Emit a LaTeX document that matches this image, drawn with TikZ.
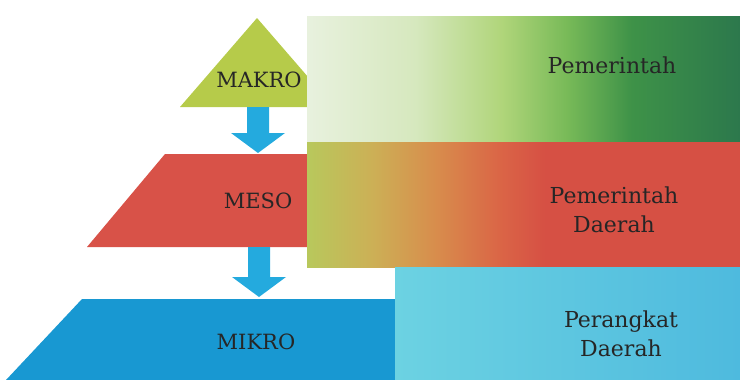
\documentclass[tikz,border=0pt]{standalone}
\usepackage{fontspec}
\setmainfont{DejaVu Serif}
\usetikzlibrary{calc}

\definecolor{makro}{RGB}{182,203,74}
\definecolor{meso}{RGB}{216,82,72}
\definecolor{mikro}{RGB}{24,152,210}
\definecolor{panah}{RGB}{36,170,222}
\definecolor{teks}{RGB}{38,38,38}

\definecolor{hijauA}{RGB}{232,241,222}
\definecolor{hijauB}{RGB}{214,232,190}
\definecolor{hijauC}{RGB}{176,213,122}
\definecolor{hijauD}{RGB}{120,186,88}
\definecolor{hijauE}{RGB}{62,146,72}
\definecolor{hijauF}{RGB}{44,120,76}
\pgfdeclarehorizontalshading{hijau}{100bp}{color(0bp)=(hijauA); color(25bp)=(hijauA);
  color(37.5bp)=(hijauB); color(47.5bp)=(hijauC); color(55bp)=(hijauD);
  color(62.5bp)=(hijauE); color(75bp)=(hijauF); color(100bp)=(hijauF)}

\definecolor{merahA}{RGB}{184,200,92}
\definecolor{merahB}{RGB}{204,176,86}
\definecolor{merahC}{RGB}{216,140,76}
\definecolor{merahD}{RGB}{218,100,70}
\definecolor{merahE}{RGB}{214,80,68}
\pgfdeclarehorizontalshading{merah}{100bp}{color(0bp)=(merahA); color(25bp)=(merahA);
  color(32.5bp)=(merahB); color(40bp)=(merahC); color(47.5bp)=(merahD);
  color(52.5bp)=(merahE); color(100bp)=(merahE)}

\definecolor{biruA}{RGB}{108,210,226}
\definecolor{biruB}{RGB}{78,186,222}
\pgfdeclarehorizontalshading{biru}{100bp}{color(0bp)=(biruA); color(25bp)=(biruA);
  color(75bp)=(biruB); color(100bp)=(biruB)}

% block arrow from shaft top (#1) down to tip (#2)
\newcommand\panahblok[2]{%
  \fill[panah] ($(#1)+(-11,0)$) -- ($(#1)+(11,0)$) -- ($(#2)+(11,-20)$) -- ($(#2)+(27,-20)$)
    -- (#2) -- ($(#2)+(-27,-20)$) -- ($(#2)+(-11,-20)$) -- cycle;}

\tikzset{
  tingkat/.style={font=\fontsize{21}{26}\selectfont, text=teks},
  pelaku/.style={font=\fontsize{22}{29}\selectfont, text=teks, align=center}
}

\begin{document}
\begin{tikzpicture}[x=1pt, y=-1pt]
    \useasboundingbox (0,0) rectangle (740,380);

    % pyramid levels
    \fill[makro] (180,107) -- (257,18) -- (334,107) -- cycle;
    \fill[meso] (87,247) -- (165,154) -- (320,154) -- (320,247) -- cycle;
    \fill[mikro] (6,380) -- (82,299) -- (400,299) -- (400,380) -- cycle;

    \coordinate (makro-bawah) at (258,107);
    \coordinate (meso-atas) at (258,153);
    \coordinate (meso-bawah) at (259,247);
    \coordinate (mikro-atas) at (259,297);
    \panahblok{makro-bawah}{meso-atas}
    \panahblok{meso-bawah}{mikro-atas}

    % bands on the right
    \shade[shading=hijau] (307,16) rectangle (740,142);
    \shade[shading=merah] (307,142) rectangle (740,267);
    \shade[shading=biru] (395,267) rectangle (740,380);

    \node[tingkat] (makro) at (259,80) {MAKRO};
    \node[tingkat] (meso) at (258,201) {MESO};
    \node[tingkat] (mikro) at (256,342) {MIKRO};

    \node[pelaku] (pusat) at (612,65) {Pemerintah};
    \node[pelaku] (pemda) at (614,210) {Pemerintah\\Daerah};
    \node[pelaku] (opd) at (621,334) {Perangkat\\Daerah};
\end{tikzpicture}
\end{document}
